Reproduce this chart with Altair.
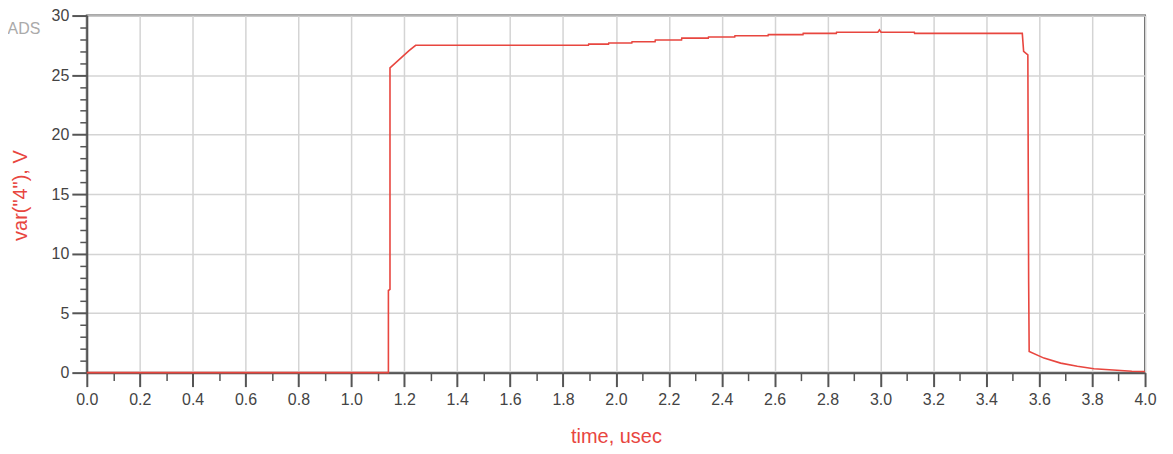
import altair as alt
import pandas as pd

# Data
time_us = [0.0, 1.140, 1.140, 1.146, 1.146, 1.218, 1.243, 1.50, 1.896, 1.897,
           1.972, 1.973, 2.060, 2.061, 2.148, 2.149, 2.248, 2.249, 2.349, 2.350,
           2.449, 2.450, 2.575, 2.576, 2.707, 2.708, 2.833, 2.834, 2.990, 2.996,
           3.002, 3.128, 3.129, 3.536, 3.541, 3.557, 3.560, 3.562, 3.618, 3.681,
           3.744, 3.807, 3.894, 3.95, 4.0]
volts = [0.0, 0.0, 6.9, 7.0, 25.6, 27.05, 27.5, 27.5, 27.5, 27.6,
         27.6, 27.7, 27.7, 27.8, 27.8, 27.95, 27.95, 28.1, 28.1, 28.2,
         28.2, 28.3, 28.3, 28.4, 28.4, 28.5, 28.5, 28.6, 28.6, 28.8,
         28.6, 28.6, 28.5, 28.5, 27.0, 26.7, 7.7, 1.78, 1.22, 0.8,
         0.53, 0.33, 0.2, 0.12, 0.1]

x_ticks = [round(i * 0.1, 1) for i in range(41)]
y_ticks = list(range(31))

df = pd.DataFrame({"t": time_us, "v": volts, "i": list(range(len(time_us)))})

RED = "#e8463f"
AXC = "#555555"
FONT = "Liberation Sans"

x_axis = alt.Axis(
    values=x_ticks,
    title="time, usec",
    titleColor=RED, titleFont=FONT, titleFontSize=20, titleFontWeight="normal",
    titleY=70, titleBaseline="alphabetic",
    labelExpr="round(datum.value*10) % 2 == 0 ? format(datum.value, '.1f') : ''",
    labelFont=FONT, labelFontSize=16, labelColor="#444444", labelPadding=5,
    labelOverlap=False, labelFlush=False,
    tickSize={"condition": {"test": "round(datum.value*10) % 2 == 0", "value": 14}, "value": 8},
    tickWidth={"condition": {"test": "round(datum.value*10) % 2 == 0", "value": 2}, "value": 1.5},
    tickColor=AXC,
    gridOpacity={"condition": {"test": "round(datum.value*10) % 2 == 0", "value": 1}, "value": 0},
    gridColor="#d4d4d4", gridWidth=1.5,
    domainColor=AXC, domainWidth=2,
)

y_axis = alt.Axis(
    values=y_ticks,
    title='var("4"), V',
    titleColor=RED, titleFont=FONT, titleFontSize=20, titleFontWeight="normal",
    titleX=-60, titleY=180, titleBaseline="alphabetic", titleAngle=270,
    labelExpr="datum.value % 5 == 0 ? datum.label : ''",
    labelFont=FONT, labelFontSize=16, labelColor="#444444", labelPadding=3,
    labelOverlap=False, labelFlush=False,
    tickSize={"condition": {"test": "datum.value % 5 == 0", "value": 15}, "value": 7},
    tickWidth={"condition": {"test": "datum.value % 5 == 0", "value": 2}, "value": 1.5},
    tickColor=AXC,
    gridOpacity={"condition": {"test": "datum.value % 5 == 0", "value": 1}, "value": 0},
    gridColor="#d4d4d4", gridWidth=1.5,
    domainColor=AXC, domainWidth=2,
)

line = alt.Chart(df).mark_line(color=RED, strokeWidth=1.6).encode(
    x=alt.X("t:Q", scale=alt.Scale(domain=[0, 4], nice=False), axis=x_axis),
    y=alt.Y("v:Q", scale=alt.Scale(domain=[0, 30], nice=False), axis=y_axis),
    order="i:Q",
)

ads = alt.Chart(pd.DataFrame({"s": ["ADS"]})).mark_text(
    font=FONT, fontSize=16, color="#aaaaaa", align="center", baseline="middle"
).encode(text="s:N", x=alt.value(-63), y=alt.value(13))

chart = alt.layer(line, ads).properties(
    width=1061, height=358,
    autosize=alt.AutoSizeParams(type="none"),
    padding={"left": 79, "top": 7, "right": 20, "bottom": 78},
).configure_view(stroke=AXC, strokeWidth=2)

chart.save("out.html", embed_options={"renderer": "svg", "actions": False})
